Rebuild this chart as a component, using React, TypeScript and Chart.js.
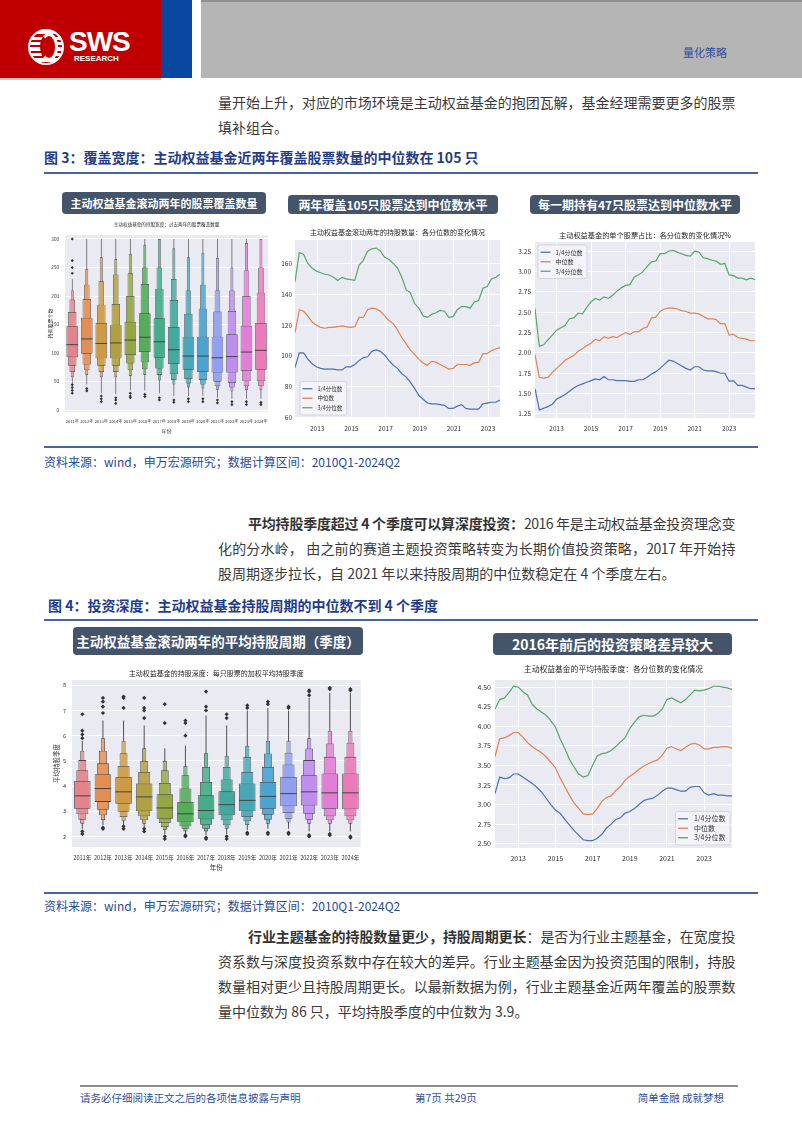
import React, { useEffect, useRef } from "react";
import { Chart, registerables } from "chart.js";
Chart.register(...registerables);

const FONT = '"Noto Sans CJK SC", "Noto Sans", sans-serif';
const TITLE_BLUE = "#1f3d8a";
const SRC_BLUE = "#2a4a98";

// ---------- Figure 3 left: coverage boxen plot ----------
const YEARS = ["2011年", "2012年", "2013年", "2014年", "2015年", "2016年", "2017年", "2018年", "2019年", "2020年", "2021年", "2022年", "2023年", "2024年"];
const COV_MED = [115, 125, 117, 118, 123, 128, 120, 106, 95, 95, 92, 94, 102, 105];
const COV_Q1 = [93, 99, 91, 91, 97, 102, 92, 81, 71, 67, 66, 66, 69, 71];
const COV_Q3 = [147, 162, 153, 150, 155, 170, 161, 146, 129, 129, 129, 133, 148, 153];
const COV_L2_LO = [78, 80, 78, 78, 82, 84, 73, 63, 55, 53, 50, 48, 51, 51];
const COV_L2_HI = [172, 195, 185, 186, 200, 221, 213, 193, 169, 178, 173, 174, 200, 206];
const COV_L3_LO = [67, 70, 67, 67, 70, 72, 62, 53, 47, 45, 42, 40, 42, 42];
const COV_L3_HI = [194, 220, 226, 238, 240, 250, 250, 230, 210, 220, 210, 210, 245, 250];
const COV_L4_LO = [58, 62, 58, 58, 60, 62, 52, 45, 40, 38, 36, 33, 35, 35];
const COV_L4_HI = [210, 248, 268, 265, 274, 290, 300, 284, 268, 276, 267, 250, 293, 300];
const COV_TAIL_LO = [48, 45, 30, 28, 35, 35, 30, 25, 25, 25, 22, 20, 20, 20];
const COV_TAIL_HI = [230, 300, 300, 300, 300, 300, 300, 300, 300, 300, 300, 300, 300, 300];
const COV_OUT = [[45, 40, 35, 30, 240, 250, 262, 300], [38, 34], [25, 20, 15], [22, 18, 12], [30, 25, 22], [28, 24], [22, 18], [18, 14], [20, 15], [20, 15], [18, 13], [15, 10], [15, 10], [14, 10]];
const COV_YTICKS = [0, 50, 100, 150, 200, 250, 300];

// ---------- Figure 4 left: holding period boxen plot ----------
const HLD_MED = [3.61, 3.9, 3.77, 3.57, 3.13, 2.9, 3.03, 3.26, 3.43, 3.59, 3.7, 3.77, 3.73, 3.73];
const HLD_Q1 = [3.1, 3.37, 3.3, 3.0, 2.7, 2.56, 2.68, 2.84, 3.0, 3.1, 3.2, 3.23, 3.1, 3.08];
const HLD_Q3 = [4.2, 4.47, 4.36, 4.1, 3.67, 3.37, 3.63, 3.79, 4.1, 4.16, 4.36, 4.43, 4.5, 4.5];
const HLD_L2_LO = [2.88, 3.06, 2.98, 2.8, 2.53, 2.4, 2.46, 2.64, 2.77, 2.86, 2.93, 2.9, 2.8, 2.8];
const HLD_L2_HI = [4.63, 4.9, 4.8, 4.56, 4.12, 3.9, 4.16, 4.26, 4.56, 4.76, 4.86, 5.03, 5.16, 5.16];
const HLD_L3_LO = [2.66, 2.84, 2.77, 2.64, 2.37, 2.3, 2.3, 2.44, 2.6, 2.66, 2.7, 2.66, 2.64, 2.64];
const HLD_L3_HI = [5.03, 5.4, 5.3, 5.0, 4.63, 4.43, 4.76, 4.76, 5.16, 5.29, 5.32, 5.49, 5.69, 5.72];
const HLD_L4_LO = [2.5, 2.65, 2.6, 2.5, 2.25, 2.2, 2.2, 2.3, 2.45, 2.5, 2.55, 2.5, 2.5, 2.5];
const HLD_L4_HI = [5.4, 5.9, 5.8, 5.5, 5.0, 4.8, 5.3, 5.2, 5.6, 5.8, 5.8, 5.9, 6.2, 6.2];
const HLD_TAIL_LO = [2.3, 2.45, 2.4, 2.35, 2.1, 2.1, 2.05, 2.1, 2.25, 2.3, 2.3, 2.2, 2.2, 2.2];
const HLD_TAIL_HI = [5.8, 6.6, 6.6, 6.4, 5.5, 5.6, 6.8, 6.4, 7.0, 7.1, 7.0, 7.5, 7.7, 7.7];
const HLD_OUT = [[2.2, 2.1, 5.9, 6.05, 6.2, 6.85], [2.35, 2.3, 6.9, 7.15, 7.35, 7.5], [2.4, 2.3, 7.1, 7.5, 7.55], [2.3, 2.2, 6.7, 7.0, 7.1, 7.5], [2.0, 1.9, 6.5, 7.25], [2.05, 2.0, 6.0, 6.5, 6.6], [1.95, 1.9, 7.0, 7.15, 7.75], [2.0, 1.9, 6.7, 6.85], [2.15, 2.1, 7.1, 7.2], [2.15, 2.1, 7.25, 7.35], [2.15, 2.1, 7.1, 7.15], [2.05, 2.0, 7.6, 7.75, 7.8], [2.1, 2.05, 7.85, 7.9], [2.0, 1.95, 7.8, 7.85]];
const HLD_YTICKS = [2, 3, 4, 5, 6, 7, 8];

const BOX_COLORS = ["#e3838b", "#e28f55", "#cd9a45", "#b0a043", "#95a742", "#55ad5c", "#45ad8a", "#44a99d", "#47a7b6", "#4ba3d1", "#909fee", "#bf8dee", "#e37ed8", "#eb7bb8"];

// ---------- Figure 3 middle: number of holdings quantiles ----------
const CNT_START = 2011.7;
const CNT_Q25 = [92.5, 102, 102, 98, 95, 93, 92, 91.5, 91.5, 91.5, 91, 91, 93, 93, 94.5, 97, 99, 99.5, 103, 104, 103, 100.5, 97, 94, 92, 88.5, 86.5, 83, 79, 74.5, 72, 69.5, 69, 69, 68.5, 68, 66, 66, 67.5, 68.5, 66, 65.5, 65.5, 65.5, 69, 69.5, 70, 70, 71.5];
const CNT_Q50 = [115, 130, 129, 126, 122, 120, 118.5, 118, 118.5, 118.5, 119, 119.5, 119, 118.5, 119, 125, 125, 130, 131, 130.5, 129, 126, 123, 121, 117, 112, 108, 104, 101, 98, 95.5, 94, 96.5, 96, 94.5, 93, 91.5, 92, 94.5, 94.5, 94.5, 94, 95.5, 96, 101.5, 101.5, 103.5, 104.5, 105.5];
const CNT_Q75 = [148, 167, 166, 160, 157, 155, 154, 153, 152.5, 151, 149, 151, 150, 149.5, 149, 159, 162, 168, 169.5, 170, 168, 164, 162.5, 160, 157, 151, 143, 141, 134, 131, 126, 125, 127, 128, 129.5, 129, 125, 125.5, 130, 132, 132, 131, 135, 136, 144, 145, 150, 151, 153];
const CNT_YTICKS = [60, 80, 100, 120, 140, 160];

// ---------- Figure 3 right: single stock weight quantiles (%) ----------
const WGT_START = 2011.75;
const WGT_Q25 = [1.56, 1.3, 1.32, 1.34, 1.37, 1.43, 1.46, 1.49, 1.53, 1.57, 1.6, 1.62, 1.64, 1.66, 1.68, 1.67, 1.71, 1.67, 1.67, 1.66, 1.66, 1.66, 1.65, 1.65, 1.67, 1.67, 1.7, 1.74, 1.77, 1.81, 1.86, 1.91, 1.9, 1.87, 1.84, 1.81, 1.79, 1.83, 1.83, 1.79, 1.78, 1.78, 1.77, 1.75, 1.75, 1.65, 1.66, 1.6, 1.6, 1.58, 1.56, 1.56];
const WGT_Q50 = [1.98, 1.7, 1.69, 1.7, 1.76, 1.81, 1.86, 1.91, 1.94, 1.97, 2.02, 2.05, 2.09, 2.12, 2.17, 2.15, 2.2, 2.18, 2.2, 2.19, 2.22, 2.25, 2.23, 2.26, 2.26, 2.3, 2.32, 2.43, 2.44, 2.51, 2.54, 2.55, 2.55, 2.54, 2.52, 2.51, 2.49, 2.49, 2.48, 2.45, 2.42, 2.42, 2.41, 2.36, 2.36, 2.22, 2.23, 2.19, 2.18, 2.17, 2.15, 2.15];
const WGT_Q75 = [2.55, 2.08, 2.1, 2.16, 2.22, 2.28, 2.31, 2.34, 2.42, 2.43, 2.49, 2.48, 2.56, 2.63, 2.67, 2.65, 2.69, 2.67, 2.71, 2.76, 2.8, 2.83, 2.84, 2.93, 2.96, 3.0, 3.06, 3.12, 3.13, 3.22, 3.22, 3.25, 3.26, 3.24, 3.22, 3.2, 3.19, 3.25, 3.24, 3.17, 3.16, 3.14, 3.13, 3.09, 3.1, 2.96, 2.95, 2.92, 2.92, 2.9, 2.92, 2.9];
const WGT_YTICKS = [1.25, 1.5, 1.75, 2.0, 2.25, 2.5, 2.75, 3.0, 3.25];

// ---------- Figure 4 right: average holding quarters quantiles ----------
const AVG_START = 2011.75;
const AVG_Q25 = [3.14, 3.35, 3.33, 3.34, 3.39, 3.39, 3.35, 3.31, 3.27, 3.22, 3.16, 3.08, 3.0, 2.93, 2.89, 2.81, 2.74, 2.67, 2.61, 2.55, 2.54, 2.54, 2.57, 2.62, 2.7, 2.75, 2.81, 2.83, 2.89, 2.91, 2.95, 3.0, 3.05, 3.07, 3.08, 3.12, 3.17, 3.21, 3.21, 3.19, 3.17, 3.17, 3.22, 3.23, 3.23, 3.15, 3.12, 3.14, 3.12, 3.12, 3.11, 3.11];
const AVG_Q50 = [3.61, 3.84, 3.85, 3.88, 3.92, 3.92, 3.86, 3.79, 3.74, 3.7, 3.66, 3.61, 3.54, 3.47, 3.34, 3.23, 3.12, 3.02, 2.95, 2.88, 2.87, 2.88, 2.95, 3.04, 3.09, 3.11, 3.18, 3.23, 3.31, 3.36, 3.4, 3.45, 3.49, 3.52, 3.55, 3.57, 3.63, 3.72, 3.74, 3.71, 3.69, 3.73, 3.77, 3.78, 3.76, 3.71, 3.71, 3.73, 3.73, 3.74, 3.74, 3.72];
const AVG_Q75 = [4.22, 4.34, 4.36, 4.43, 4.51, 4.5, 4.44, 4.4, 4.28, 4.22, 4.18, 4.14, 4.07, 3.99, 3.84, 3.72, 3.58, 3.48, 3.39, 3.35, 3.37, 3.5, 3.62, 3.65, 3.66, 3.69, 3.74, 3.8, 3.85, 3.97, 4.05, 4.12, 4.14, 4.13, 4.13, 4.16, 4.22, 4.34, 4.36, 4.33, 4.3, 4.34, 4.4, 4.46, 4.45, 4.46, 4.48, 4.51, 4.51, 4.5, 4.49, 4.47];
const AVG_YTICKS = [2.5, 2.75, 3.0, 3.25, 3.5, 3.75, 4.0, 4.25, 4.5];

const YEAR_TICKS = [2013, 2015, 2017, 2019, 2021, 2023];
const SERIES_NAMES = ["1/4分位数", "中位数", "3/4分位数"];
const SERIES_COLORS = ["#4c72b0", "#dd8452", "#55a868"];

// ---------- helpers ----------
function mix(hex: string, t: number) {
  const n = parseInt(hex.slice(1), 16);
  const r = (n >> 16) & 255, g = (n >> 8) & 255, b = n & 255;
  const f = (c: number) => Math.round(c + (255 - c) * t);
  return `rgb(${f(r)},${f(g)},${f(b)})`;
}

const bgPlugin = {
  id: "plotBg",
  beforeDraw(chart: any) {
    const { ctx, chartArea: a } = chart;
    ctx.save();
    ctx.fillStyle = "#eaeaf2";
    ctx.fillRect(a.left, a.top, a.right - a.left, a.bottom - a.top);
    ctx.restore();
  },
};

const axTitlePlugin = {
  id: "axTitle",
  afterDraw(chart: any, _a: any, opts: any) {
    if (!opts || !opts.text) return;
    const { ctx, chartArea: a } = chart;
    ctx.save();
    ctx.font = `${opts.size}px ${FONT}`;
    ctx.fillStyle = "#262626";
    ctx.textAlign = "center";
    ctx.textBaseline = "middle";
    ctx.fillText(opts.text, (a.left + a.right) / 2, a.top - opts.offset);
    ctx.restore();
  },
};

const legendPlugin = {
  id: "inLegend",
  afterDatasetsDraw(chart: any, _a: any, opts: any) {
    if (!opts || !opts.corner) return;
    const { ctx, chartArea: a } = chart;
    const items = chart.data.datasets.map((d: any) => ({ label: d.label, color: d.borderColor }));
    ctx.save();
    ctx.font = `${opts.size}px ${FONT}`;
    const tw = Math.max(...items.map((it: any) => ctx.measureText(it.label).width));
    const pad = opts.pad;
    const w = pad * 2 + opts.lineLen + opts.gap + tw + 2;
    const h = pad * 2 + opts.row * items.length;
    const x = opts.corner[1] === "l" ? a.left + opts.dx : a.right - opts.dx - w;
    const y = opts.corner[0] === "t" ? a.top + opts.dy : a.bottom - opts.dy - h;
    ctx.beginPath();
    ctx.roundRect(x, y, w, h, 2);
    ctx.fillStyle = "rgba(245,245,250,0.8)";
    ctx.fill();
    ctx.strokeStyle = "#cdcdd5";
    ctx.lineWidth = 0.8;
    ctx.stroke();
    items.forEach((it: any, i: number) => {
      const cy = y + pad + opts.row * (i + 0.5);
      ctx.strokeStyle = it.color;
      ctx.lineWidth = 1.3;
      ctx.beginPath();
      ctx.moveTo(x + pad, cy);
      ctx.lineTo(x + pad + opts.lineLen, cy);
      ctx.stroke();
      ctx.fillStyle = "#333";
      ctx.textAlign = "left";
      ctx.textBaseline = "middle";
      ctx.fillText(it.label, x + pad + opts.lineLen + opts.gap, cy);
    });
    ctx.restore();
  },
};

function boxenConfig(o: any) {
  const pair = (lo: number[], hi: number[]) => lo.map((v, i) => [v, hi[i]]);
  const levels = [
    { lo: o.tailLo, hi: o.tailHi, w: 0.05, order: 6, light: -1 },
    { lo: o.l4lo, hi: o.l4hi, w: 0.2, order: 5, light: 0.2 },
    { lo: o.l3lo, hi: o.l3hi, w: 0.38, order: 4, light: 0.14 },
    { lo: o.l2lo, hi: o.l2hi, w: 0.58, order: 3, light: 0.07 },
    { lo: o.q1, hi: o.q3, w: 0.8, order: 2, light: 0 },
  ];
  const datasets: any[] = levels.map((l) => ({
    type: "bar",
    data: pair(l.lo, l.hi),
    backgroundColor: l.light < 0 ? "#555555" : BOX_COLORS.map((c) => mix(c, l.light)),
    borderColor: "#474747",
    borderWidth: l.light < 0 ? 0 : o.edge,
    borderSkipped: false,
    barPercentage: l.w,
    categoryPercentage: 1,
    grouped: false,
    order: l.order,
  }));
  datasets.push({
    type: "line",
    data: o.med,
    showLine: false,
    pointStyle: "line",
    pointRadius: o.medRadius,
    pointBorderWidth: 1,
    pointBorderColor: "#444",
    order: 1,
  });
  datasets.push({
    type: "line",
    data: YEARS.flatMap((lab, i) => o.out[i].map((y: number) => ({ x: lab, y }))),
    showLine: false,
    pointStyle: "rectRot",
    pointRadius: o.outRadius,
    pointBackgroundColor: "#333",
    pointBorderColor: "#333",
    pointBorderWidth: 0,
    order: 0,
  });
  return {
    type: "bar",
    data: { labels: YEARS, datasets },
    plugins: [bgPlugin, axTitlePlugin],
    options: {
      animation: false,
      responsive: false,
      maintainAspectRatio: false,
      layout: { padding: { top: o.padTop, right: o.padRight, left: 0, bottom: 0 } },
      plugins: {
        legend: { display: false },
        tooltip: { enabled: false },
        axTitle: { text: o.title, size: o.titleSize, offset: o.titleOffset },
      },
      scales: {
        x: {
          type: "category",
          offset: true,
          grid: { display: false, drawTicks: false },
          border: { display: false },
          ticks: { font: { size: o.tickSize, family: FONT }, color: "#333", padding: o.xPad, maxRotation: 0, autoSkip: false },
          title: { display: true, text: "年份", font: { size: o.axSize, family: FONT }, color: "#333", padding: { top: 0, bottom: o.xTitlePad } },
          afterFit: (s: any) => { s.height = o.xHeight; },
        },
        y: {
          type: "linear",
          min: o.yMin,
          max: o.yMax,
          afterBuildTicks: (s: any) => { s.ticks = o.yTicks.map((v: number) => ({ value: v })); },
          grid: { color: "#ffffff", lineWidth: 1, drawTicks: false },
          border: { display: false },
          ticks: { font: { size: o.yTickSize || o.tickSize, family: FONT }, color: "#333", padding: o.yPad, callback: (v: any) => String(v) },
          title: { display: true, text: o.yTitle, font: { size: o.axSize, family: FONT }, color: "#333", padding: { top: o.yTitlePad, bottom: 0 } },
          afterFit: (s: any) => { s.width = o.yWidth; },
        },
      },
    },
  };
}

function lineConfig(o: any) {
  const series = [o.q25, o.q50, o.q75];
  return {
    type: "line",
    data: {
      datasets: series.map((arr: number[], k: number) => ({
        label: SERIES_NAMES[k],
        data: arr.map((y, i) => ({ x: o.start + i * 0.25, y })),
        borderColor: SERIES_COLORS[k],
        backgroundColor: SERIES_COLORS[k],
        borderWidth: 1.2,
        pointRadius: 0,
        tension: 0,
      })),
    },
    plugins: [bgPlugin, axTitlePlugin, legendPlugin],
    options: {
      animation: false,
      responsive: false,
      maintainAspectRatio: false,
      layout: { padding: { top: o.padTop, right: o.padRight, left: 0, bottom: 0 } },
      plugins: {
        legend: { display: false },
        tooltip: { enabled: false },
        axTitle: { text: o.title, size: o.titleSize, offset: o.titleOffset },
        inLegend: o.legend,
      },
      scales: {
        x: {
          type: "linear",
          min: o.xMin,
          max: o.xMax,
          afterBuildTicks: (s: any) => { s.ticks = YEAR_TICKS.map((v) => ({ value: v })); },
          grid: { color: "#ffffff", lineWidth: 1, drawTicks: false },
          border: { display: false },
          ticks: { font: { size: o.tickSize, family: FONT }, color: "#333", padding: o.xPad, maxRotation: 0, autoSkip: false, callback: (v: any) => String(v) },
          afterFit: (s: any) => { s.height = o.xHeight; },
        },
        y: {
          type: "linear",
          min: o.yMin,
          max: o.yMax,
          afterBuildTicks: (s: any) => { s.ticks = o.yTicks.map((v: number) => ({ value: v })); },
          grid: { color: "#ffffff", lineWidth: 1, drawTicks: false },
          border: { display: false },
          ticks: { font: { size: o.tickSize, family: FONT }, color: "#333", padding: o.yPad, callback: (v: any) => (o.dec ? Number(v).toFixed(o.dec) : String(v)) },
          afterFit: (s: any) => { s.width = o.yWidth; },
        },
      },
    },
  };
}

function ChartCanvas({ left, top, width, height, make }: any) {
  const ref = useRef<HTMLCanvasElement>(null);
  useEffect(() => {
    const chart = new Chart(ref.current as HTMLCanvasElement, make());
    return () => chart.destroy();
  }, []);
  return (
    <div style={{ position: "absolute", left, top, width, height }}>
      <canvas ref={ref} width={width} height={height} style={{ width, height, display: "block" }} />
    </div>
  );
}

function TextLine({ x, y, text, bold, justify, size = 14, color = "#3a3a3a", right = 735, ls }: any) {
  return (
    <div
      style={{
        position: "absolute",
        left: x,
        top: y - 12.5,
        width: right - x,
        height: 25,
        lineHeight: "25px",
        fontSize: size,
        whiteSpace: "nowrap",
        color,
        textAlign: justify ? "justify" : "left",
        textAlignLast: justify ? "justify" : "left",
        letterSpacing: ls !== undefined ? ls : justify ? -0.4 : 0,
      } as any}
    >
      {bold ? <b style={{ fontWeight: 700, color: "#333" }}>{bold}</b> : null}
      {text}
    </div>
  );
}

function Rule({ x, y, w, color = "#4664a3", h = 1.5 }: any) {
  return <div style={{ position: "absolute", left: x, top: y, width: w, height: h, background: color }} />;
}

function BoxTitle({ x, y, w, h, text, size }: any) {
  return (
    <div
      style={{
        position: "absolute",
        left: x,
        top: y,
        width: w,
        height: h,
        background: "#44546a",
        borderRadius: 4,
        color: "#fff",
        fontSize: size,
        fontWeight: 700,
        lineHeight: `${h}px`,
        textAlign: "center",
        whiteSpace: "nowrap",
      }}
    >
      {text}
    </div>
  );
}

export default function App() {
  return (
    <div style={{ position: "absolute", left: 0, top: 0, width: 802, height: 1133, overflow: "hidden", background: "#fff", fontFamily: FONT }}>
      {/* header */}
      <div style={{ position: "absolute", left: 0, top: 0, width: 161, height: 78, background: "#c00000" }} />
      <div style={{ position: "absolute", left: 161, top: 0, width: 31, height: 78, background: "#0a47a0" }} />
      <div style={{ position: "absolute", left: 201, top: 0, width: 601, height: 78, background: "#b5b5b5", borderTop: "2px solid #8f8f8f", boxSizing: "border-box" }} />
      <div style={{ position: "absolute", left: 0, top: 78, width: 161, height: 2, background: "#f2b8b8" }} />
      <div style={{ position: "absolute", left: 28, top: 29, width: 36, height: 36, borderRadius: "50%", background: "repeating-linear-gradient(180deg,#ffffff 0 3px,#c00000 3px 5.5px)", border: "2px solid #fff", boxSizing: "border-box" }} />
      <div style={{ position: "absolute", left: 40, top: 33, width: 18, height: 28, borderRadius: "50%", background: "#c00000", border: "3px solid #fff", borderLeftColor: "transparent", boxSizing: "border-box" }} />
      <div style={{ position: "absolute", left: 69, top: 26, color: "#fff", fontFamily: '"Liberation Sans", Arial, sans-serif', fontWeight: 700, fontSize: 28, letterSpacing: -1, lineHeight: "32px" }}>SWS</div>
      <div style={{ position: "absolute", left: 74, top: 54, color: "#fff", fontFamily: '"Liberation Sans", Arial, sans-serif', fontWeight: 700, fontSize: 8, lineHeight: "10px" }}>RESEARCH</div>
      <div style={{ position: "absolute", left: 683, top: 45, color: "#2d4f9e", fontSize: 11, lineHeight: "14px" }}>量化策略</div>

      {/* top paragraph */}
      <TextLine x={218} y={102} text="量开始上升，对应的市场环境是主动权益基金的抱团瓦解，基金经理需要更多的股票" justify />
      <TextLine x={218} y={127} text="填补组合。" />

      {/* figure 3 */}
      <div style={{ position: "absolute", left: 44, top: 147, lineHeight: "20px", fontSize: 14, fontWeight: 700, color: TITLE_BLUE, whiteSpace: "nowrap" }}>图 3：覆盖宽度：主动权益基金近两年覆盖股票数量的中位数在 105 只</div>
      <Rule x={44} y={172} w={714} />

      <BoxTitle x={62} y={192} w={204} h={22} text="主动权益基金滚动两年的股票覆盖数量" size={11} />
      <BoxTitle x={288} y={195} w={210} h={19} text="两年覆盖105只股票达到中位数水平" size={12} />
      <BoxTitle x={530} y={195} w={210} h={19} text="每一期持有47只股票达到中位数水平" size={12} />

      <ChartCanvas
        left={45}
        top={218}
        width={230}
        height={222}
        make={() =>
          boxenConfig({
            med: COV_MED, q1: COV_Q1, q3: COV_Q3, l2lo: COV_L2_LO, l2hi: COV_L2_HI, l3lo: COV_L3_LO, l3hi: COV_L3_HI,
            l4lo: COV_L4_LO, l4hi: COV_L4_HI, tailLo: COV_TAIL_LO, tailHi: COV_TAIL_HI, out: COV_OUT,
            yMin: -3, yMax: 307, yTicks: COV_YTICKS, padTop: 17, padRight: 5, yWidth: 20, xHeight: 28,
            title: "主动权益基金的持股宽度：过去两年的股票覆盖数量", titleSize: 4.6, titleOffset: 11,
            tickSize: 4.1, yTickSize: 4.6, axSize: 5, xPad: 7, yPad: 6, xTitlePad: 6, yTitlePad: 2, yTitle: "持有股票个数",
            medRadius: 5.8, outRadius: 1.6, edge: 0.7,
          })
        }
      />
      <ChartCanvas
        left={281}
        top={226}
        width={221}
        height={209}
        make={() =>
          lineConfig({
            start: CNT_START, q25: CNT_Q25, q50: CNT_Q50, q75: CNT_Q75,
            xMin: 2011.7, xMax: 2023.7, yMin: 59.8, yMax: 175.2, yTicks: CNT_YTICKS, dec: 0,
            padTop: 14, padRight: 2, yWidth: 14, xHeight: 17,
            title: "主动权益基金滚动两年的持股数量：各分位数的变化情况", titleSize: 7, titleOffset: 7.5,
            tickSize: 6.5, xPad: 6.5, yPad: 3,
            legend: { corner: "bl", dx: 5, dy: 3, size: 5.5, row: 9.5, pad: 2.5, lineLen: 10, gap: 5 },
          })
        }
      />
      <ChartCanvas
        left={512}
        top={226}
        width={246}
        height={209}
        make={() =>
          lineConfig({
            start: WGT_START, q25: WGT_Q25, q50: WGT_Q50, q75: WGT_Q75,
            xMin: 2011.75, xMax: 2024.5, yMin: 1.2, yMax: 3.364, yTicks: WGT_YTICKS, dec: 2,
            padTop: 16, padRight: 3, yWidth: 23, xHeight: 17,
            title: "主动权益基金的单个股票占比：各分位数的变化情况%", titleSize: 7.2, titleOffset: 7,
            tickSize: 6.5, xPad: 6.5, yPad: 4,
            legend: { corner: "tl", dx: 3, dy: 3, size: 6, row: 9.5, pad: 2.5, lineLen: 10, gap: 5 },
          })
        }
      />

      <Rule x={44} y={446} w={714} />
      <div style={{ position: "absolute", left: 44, top: 454, lineHeight: "16px", fontSize: 12, color: SRC_BLUE, whiteSpace: "nowrap" }}>资料来源：wind，申万宏源研究；数据计算区间：2010Q1-2024Q2</div>

      {/* paragraph 2 */}
      <TextLine x={248} y={523} bold="平均持股季度超过 4 个季度可以算深度投资：" text="2016 年是主动权益基金投资理念变" justify ls={-0.5} />
      <TextLine x={218} y={548} text="化的分水岭， 由之前的赛道主题投资策略转变为长期价值投资策略，2017 年开始持" justify />
      <TextLine x={218} y={573} text="股周期逐步拉长，自 2021 年以来持股周期的中位数稳定在 4 个季度左右。" />

      {/* figure 4 */}
      <div style={{ position: "absolute", left: 48, top: 595, lineHeight: "20px", fontSize: 14, fontWeight: 700, color: TITLE_BLUE, whiteSpace: "nowrap" }}>图 4：投资深度：主动权益基金持股周期的中位数不到 4 个季度</div>
      <Rule x={44} y={619} w={714} />

      <BoxTitle x={73} y={627} w={290} h={28} text="主动权益基金滚动两年的平均持股周期（季度）" size={13.5} />
      <BoxTitle x={493} y={633} w={239} h={22} text="2016年前后的投资策略差异较大" size={14} />

      <ChartCanvas
        left={48}
        top={662}
        width={322}
        height={213}
        make={() =>
          boxenConfig({
            med: HLD_MED, q1: HLD_Q1, q3: HLD_Q3, l2lo: HLD_L2_LO, l2hi: HLD_L2_HI, l3lo: HLD_L3_LO, l3hi: HLD_L3_HI,
            l4lo: HLD_L4_LO, l4hi: HLD_L4_HI, tailLo: HLD_TAIL_LO, tailHi: HLD_TAIL_HI, out: HLD_OUT,
            yMin: 1.58, yMax: 8.21, yTicks: HLD_YTICKS, padTop: 18, padRight: 5, yWidth: 24, xHeight: 28,
            title: "主动权益基金的持股深度：每只股票的加权平均持股季度", titleSize: 7, titleOffset: 7,
            tickSize: 5.6, axSize: 6.5, xPad: 8, yPad: 6, xTitlePad: 4, yTitlePad: 5, yTitle: "平均持股季度",
            medRadius: 8.3, outRadius: 2.1, edge: 0.8,
          })
        }
      />
      <ChartCanvas
        left={468}
        top={662}
        width={268}
        height={204}
        make={() =>
          lineConfig({
            start: AVG_START, q25: AVG_Q25, q50: AVG_Q50, q75: AVG_Q75,
            xMin: 2011.75, xMax: 2024.5, yMin: 2.445, yMax: 4.59, yTicks: AVG_YTICKS, dec: 2,
            padTop: 18, padRight: 4, yWidth: 27, xHeight: 18,
            title: "主动权益基金的平均持股季度：各分位数的变化情况", titleSize: 7.8, titleOffset: 11,
            tickSize: 7, xPad: 6.5, yPad: 4,
            legend: { corner: "br", dx: 2, dy: 3, size: 7, row: 9.5, pad: 2.5, lineLen: 10, gap: 6 },
          })
        }
      />

      <Rule x={44} y={892} w={714} />
      <div style={{ position: "absolute", left: 44, top: 898, lineHeight: "16px", fontSize: 12, color: SRC_BLUE, whiteSpace: "nowrap" }}>资料来源：wind，申万宏源研究；数据计算区间：2010Q1-2024Q2</div>

      {/* paragraph 3 */}
      <TextLine x={248} y={936} bold="行业主题基金的持股数量更少，持股周期更长" text="：是否为行业主题基金，在宽度投" justify />
      <TextLine x={218} y={961} text="资系数与深度投资系数中存在较大的差异。行业主题基金因为投资范围的限制，持股" justify />
      <TextLine x={218} y={986} text="数量相对更少且持股周期更长。以最新数据为例，行业主题基金近两年覆盖的股票数" justify />
      <TextLine x={218} y={1011} text="量中位数为 86 只，平均持股季度的中位数为 3.9。" />

      {/* footer */}
      <Rule x={80} y={1085} w={658} color="#8c8c8c" h={2} />
      <div style={{ position: "absolute", left: 80, top: 1091, lineHeight: "14px", fontSize: 10.5, color: "#2d4f9e", whiteSpace: "nowrap" }}>请务必仔细阅读正文之后的各项信息披露与声明</div>
      <div style={{ position: "absolute", left: 415, top: 1091, lineHeight: "14px", fontSize: 10.5, color: "#2d4f9e", whiteSpace: "nowrap" }}>第7页 共29页</div>
      <div style={{ position: "absolute", left: 604, width: 120, top: 1091, lineHeight: "14px", fontSize: 10.5, color: "#2d4f9e", whiteSpace: "nowrap", textAlign: "right" }}>简单金融 成就梦想</div>
    </div>
  );
}
